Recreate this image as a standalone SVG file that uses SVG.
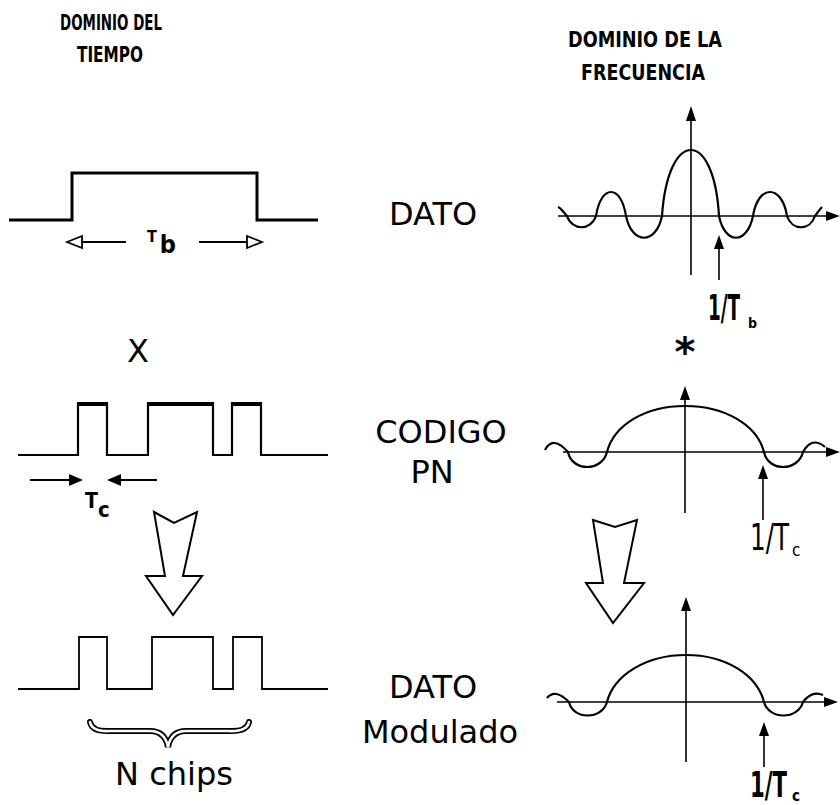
<svg xmlns="http://www.w3.org/2000/svg" width="840" height="805" viewBox="0 0 840 805">
<style>
.hdr{font-family:'DejaVu Sans Condensed','DejaVu Sans',sans-serif;font-stretch:condensed;font-weight:bold;font-size:22px;fill:#000}
.lbl{font-family:'DejaVu Sans',sans-serif;font-size:32px;text-anchor:middle;fill:#000}
.cnd{font-family:'DejaVu Sans Condensed','DejaVu Sans',sans-serif;font-stretch:condensed;fill:#000}
.wave{fill:none;stroke:#000;stroke-linejoin:miter}
.ax{fill:none;stroke:#000;stroke-width:1.6}
.spec{fill:none;stroke:#000;stroke-width:2.2;stroke-linejoin:round}
.head{fill:#000;stroke:none}
.big{fill:#fff;stroke:#000;stroke-width:2;stroke-linejoin:miter}
</style>
<rect width="840" height="805" fill="#fff"/>

<g id="header-time">
<text class="hdr" x="60" y="30" textLength="102" lengthAdjust="spacingAndGlyphs">DOMINIO DEL</text>
<text class="hdr" x="77" y="62" textLength="66" lengthAdjust="spacingAndGlyphs">TIEMPO</text>
</g>
<g id="header-freq">
<text class="hdr" x="568" y="47" textLength="154" lengthAdjust="spacingAndGlyphs">DOMINIO DE LA</text>
<text class="hdr" x="581" y="80" textLength="124" lengthAdjust="spacingAndGlyphs">FRECUENCIA</text>
</g>

<g id="time-dato">
<path class="wave" stroke-width="3" d="M9,220 H72 V173 H257 V220 H318"/>
<line x1="126" y1="242" x2="80" y2="242" stroke="#000" stroke-width="1.8"/>
<polygon points="67,242 82,236 82,248" fill="#fff" stroke="#000" stroke-width="1.8"/>
<line x1="199" y1="242" x2="249" y2="242" stroke="#000" stroke-width="1.8"/>
<polygon points="262,242 247,236 247,248" fill="#fff" stroke="#000" stroke-width="1.8"/>
<text class="cnd" x="147" y="242" font-size="16" font-weight="bold">T<tspan font-size="25" dx="3" dy="11">b</tspan></text>
</g>

<g id="op-x">
<text class="lbl" x="138" y="362" font-size="25">X</text>
</g>

<g id="time-pn">
<path class="wave" stroke-width="2.2" d="M18,455 H78 V403 H107 V455 H148 V403 H213 V455 H232 V403 H261 V455 H328"/>
<path class="wave" stroke-width="4" d="M78,404 H107 M148,404 H213 M232,404 H261"/>
<line x1="30" y1="480" x2="72" y2="480" stroke="#000" stroke-width="1.8"/>
<polygon class="head" points="83,480 69,474 69,486"/>
<line x1="157" y1="480" x2="120" y2="480" stroke="#000" stroke-width="1.8"/>
<polygon class="head" points="107,480 121,474 121,486"/>
<text class="cnd" x="85" y="508" font-size="21" font-weight="bold">T<tspan font-size="22" dy="9">c</tspan></text>
</g>

<g id="time-mod">
<path class="wave" stroke-width="1.8" d="M18,689 H79 V637 H107 V689 H152 V637 H213 V689 H233 V637 H262 V689 H328"/>
<path d="M90,722 Q92,732 110,731 L150,731 Q165,731 168,747 Q171,731 186,731 L228,731 Q247,732 249,722" fill="none" stroke="#000" stroke-width="6" stroke-linecap="round"/>
<path d="M90,722 Q92,732 110,731 L150,731 Q165,731 168,747 Q171,731 186,731 L228,731 Q247,732 249,722" fill="none" stroke="#fff" stroke-width="2.6" stroke-linecap="round"/>
<text class="lbl" x="174" y="785">N chips</text>
</g>

<g id="label-dato">
<text class="lbl" x="433" y="225">DATO</text>
</g>
<g id="label-codigo">
<text class="lbl" x="441" y="443">CODIGO</text>
<text class="lbl" x="432" y="483">PN</text>
</g>
<g id="label-mod">
<text class="lbl" x="433" y="698">DATO</text>
<text class="lbl" x="440" y="743">Modulado</text>
</g>

<g id="freq-dato">
<line class="ax" x1="558" y1="216" x2="828" y2="216"/>
<polygon class="head" points="840,216 826,211 826,221"/>
<line class="ax" x1="691" y1="275" x2="691" y2="118"/>
<polygon class="head" points="691,106 686,121 696,121"/>
<path class="spec" d="M558,207 C561,208 564,213 567,216 C572,231 591,231 596,216 C601,184 621,184 626,216 C632,245 656,245 662,216 C668,128 714,128 719,216 C725,245 747,245 753,216 C758,184 782,184 787,216 C792,231 810,231 815,216 C818,212 820,209 822,207"/>
<line class="ax" x1="719" y1="280" x2="719" y2="246"/>
<polygon class="head" points="719,235 714,249 724,249"/>
<text class="cnd" x="708" y="320" font-size="36" font-weight="bold" textLength="32" lengthAdjust="spacingAndGlyphs">1/T</text>
<text class="cnd" x="748" y="328" font-size="14" font-weight="bold">b</text>
</g>

<g id="op-conv">
<text x="685" y="366" font-family="'DejaVu Sans',sans-serif" font-weight="bold" font-size="40" text-anchor="middle">*</text>
</g>

<g id="freq-pn">
<line class="ax" x1="563" y1="452" x2="828" y2="452"/>
<polygon class="head" points="840,452 826,447 826,457"/>
<line class="ax" x1="685" y1="513" x2="685" y2="398"/>
<polygon class="head" points="685,386 680,400 690,400"/>
<path class="spec" d="M545,450 Q553,435 568,452 C572,472 602,472 607,452 C614,425 645,406 685,406 C725,406 757,425 764,452 C768,472 798,472 803,452 Q812,436 825,447"/>
<line class="ax" x1="763" y1="520" x2="763" y2="476"/>
<polygon class="head" points="763,465 758,479 768,479"/>
<text class="cnd" x="750" y="550" font-size="38" textLength="39" lengthAdjust="spacingAndGlyphs">1/T</text>
<text class="cnd" x="792" y="556" font-size="17">c</text>
</g>

<g id="freq-mod">
<line class="ax" x1="557" y1="702" x2="826" y2="702"/>
<polygon class="head" points="838,702 824,697 824,707"/>
<line class="ax" x1="686" y1="762" x2="686" y2="609"/>
<polygon class="head" points="686,597 681,611 691,611"/>
<path class="spec" d="M547,698 Q555,688 569,702 C573,720 602,720 607,702 C614,675 646,655 686,655 C726,655 757,675 764,702 C769,720 798,720 803,702 Q812,690 823,695"/>
<line class="ax" x1="764" y1="767" x2="764" y2="733"/>
<polygon class="head" points="764,722 759,736 769,736"/>
<text class="cnd" x="750" y="797" font-size="36" font-weight="bold" textLength="37" lengthAdjust="spacingAndGlyphs">1/T</text>
<text class="cnd" x="792" y="801" font-size="15" font-weight="bold">c</text>
</g>

<g id="connectors">
<polygon class="big" points="154,512 174,523 197,512 183,576 202,576 173,615 146,576 165,576"/>
<polygon class="big" points="593,520 615,527 637,520 624,583 644,583 613,623 586,583 603,583"/>
</g>
</svg>
